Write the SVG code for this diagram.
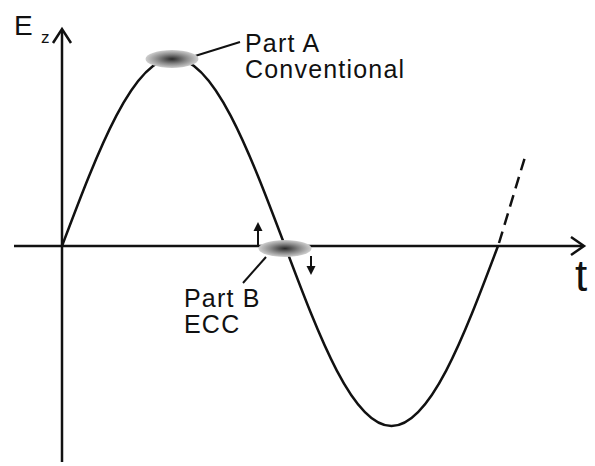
<svg xmlns="http://www.w3.org/2000/svg" width="595" height="466" viewBox="0 0 595 466">
<defs>
<radialGradient id="blob" cx="0.5" cy="0.5" r="0.5">
<stop offset="0" stop-color="#2a2a2a"/>
<stop offset="0.55" stop-color="#8a8a8a"/>
<stop offset="1" stop-color="#cfcfcf"/>
</radialGradient>
<style>
.ax{stroke:#111;stroke-width:2.5;fill:none}
.cv{stroke:#111;stroke-width:2.5;fill:none}
.ld{stroke:#111;stroke-width:2;fill:none}
.hd{fill:#111}
.tx{font-family:"Liberation Sans",Arial,sans-serif;fill:#111}
.lbl{font-size:25px;letter-spacing:1.2px}
</style>
</defs>
<rect width="595" height="466" fill="#fff"/>
<g id="connectors">
<path class="ax" d="M62,462 V30"/>
<path class="ax" d="M53,43 L62,29 L71,43"/>
<path class="ax" d="M14,246 H583"/>
<path class="ax" d="M571,237 L584,246 L571,255"/>
<path class="cv" d="M62,246 C98.36,149.69 133.15,58 173.5,58 C213.85,58 248.64,149.69 285,246 C319.73,338.21 352.96,426 391.5,426 C430.04,426 463.27,338.21 498,246"/>
<path class="cv" d="M499,243 L525,157" stroke-dasharray="12,7"/>
<path class="ld" d="M195,56 L240,42"/>
<path class="ld" d="M266,257 L243,283"/>
<path class="ld" d="M258,245 V230"/>
<path class="hd" d="M253.5,231 L258,222 L262.5,231 z"/>
<path class="ld" d="M311,256 V267"/>
<path class="hd" d="M306.5,266 L311,275 L315.5,266 z"/>
</g>
<g id="partA">
<ellipse cx="172" cy="59" rx="26.5" ry="9" fill="url(#blob)"/>
<text class="tx lbl" x="245" y="52">Part A</text>
<text class="tx lbl" x="245" y="78">Conventional</text>
</g>
<g id="partB">
<ellipse cx="285" cy="248.5" rx="26.5" ry="8.5" fill="url(#blob)"/>
<text class="tx lbl" x="184" y="307">Part B</text>
<text class="tx lbl" x="184" y="333">ECC</text>
</g>
<g id="axisLabels">
<text class="tx" x="14" y="35" font-size="28">E</text>
<text class="tx" x="41" y="43" font-size="17">z</text>
<text class="tx" x="575" y="291" font-size="44">t</text>
</g>
</svg>
